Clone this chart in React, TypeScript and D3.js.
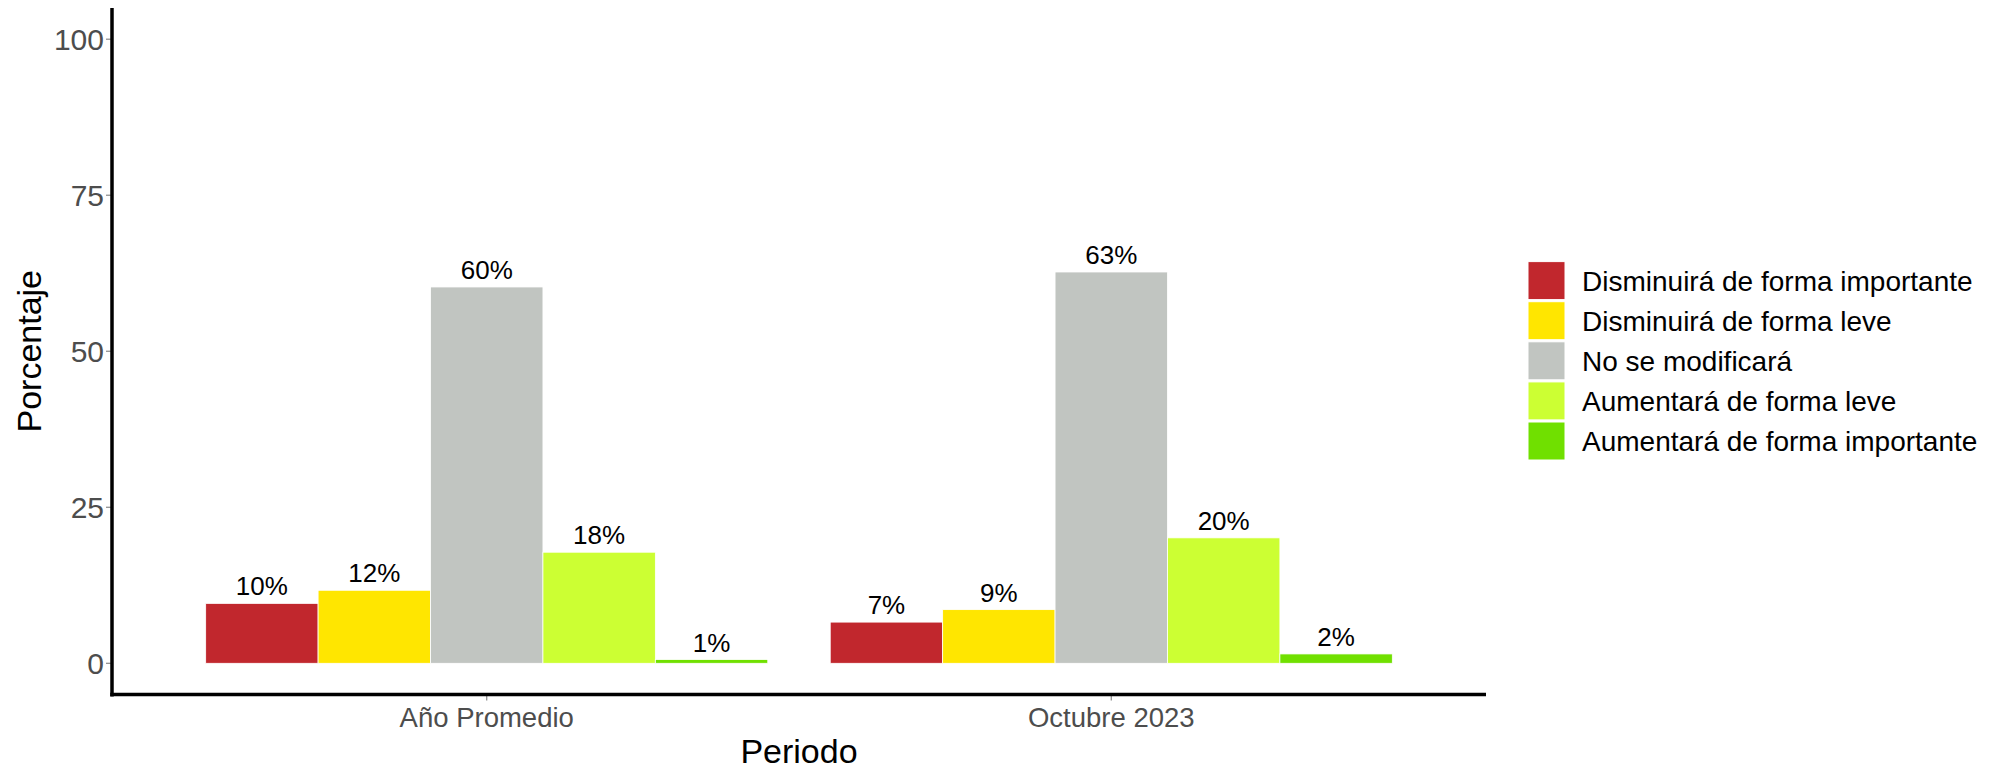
import { useEffect } from 'react';
import * as d3 from 'd3';

const PERIODS = ['Año Promedio', 'Octubre 2023'];
const CATEGORIES = [
  'Disminuirá de forma importante',
  'Disminuirá de forma leve',
  'No se modificará',
  'Aumentará de forma leve',
  'Aumentará de forma importante',
];
const COLORS = ['#C1272D', '#FFE600', '#C1C5C1', '#CCFF33', '#70E000'];
const PROMEDIO = [9.6, 11.7, 60.3, 17.8, 0.6];
const OCTUBRE = [6.6, 8.6, 62.7, 20.1, 1.5];
const SERIES = [PROMEDIO, OCTUBRE];
const Y_TICKS = [0, 25, 50, 75, 100];

const FONT = '"Liberation Sans", Arial, sans-serif';

const App = () => {
  useEffect(() => {
    document.body.style.margin = '0';
  }, []);

  const width = 2000;
  const height = 771;
  const panel = { left: 112, right: 1486, top: 8, bottom: 694.5 };

  const x = d3
    .scalePoint<string>()
    .domain(PERIODS)
    .range([panel.left, panel.right])
    .padding(0.6);
  const groupWidth = x.step() * 0.9;
  const inner = d3
    .scaleBand<string>()
    .domain(CATEGORIES)
    .range([-groupWidth / 2, groupWidth / 2])
    .padding(0);
  const y = d3.scaleLinear().domain([-5, 105]).range([panel.bottom, panel.top]);

  const legendX = 1528;
  const legendY0 = 280.6;
  const legendStep = 40.1;

  return (
    <svg width={width} height={height} style={{ display: 'block', fontFamily: FONT }}>
      <rect width={width} height={height} fill="#fff" />

      {/* bars */}
      {PERIODS.map((p, pi) => (
        <g key={p} transform={`translate(${x(p)},0)`}>
          {CATEGORIES.map((c, ci) => {
            const v = SERIES[pi][ci];
            const bx = inner(c)!;
            return (
              <g key={c}>
                <rect
                  x={bx}
                  y={y(v)}
                  width={inner.bandwidth()}
                  height={y(0) - y(v)}
                  fill={COLORS[ci]}
                  stroke="#fff"
                  strokeWidth={0.8}
                />
                <text
                  x={bx + inner.bandwidth() / 2}
                  y={y(v) - 8}
                  textAnchor="middle"
                  fontSize={26}
                  fill="#000"
                >
                  {`${Math.round(v)}%`}
                </text>
              </g>
            );
          })}
        </g>
      ))}

      {/* y axis */}
      {Y_TICKS.map((t) => (
        <g key={t}>
          <line x1={panel.left - 6} x2={panel.left} y1={y(t)} y2={y(t)} stroke="#888" strokeWidth={1.2} />
          <text
            x={panel.left - 8}
            y={y(t)}
            dy="0.36em"
            textAnchor="end"
            fontSize={30}
            fill="#4D4D4D"
          >
            {t}
          </text>
        </g>
      ))}
      <line x1={panel.left} x2={panel.left} y1={panel.top} y2={panel.bottom + 2} stroke="#000" strokeWidth={3.5} />

      {/* x axis */}
      {PERIODS.map((p) => (
        <g key={p}>
          <line x1={x(p)} x2={x(p)} y1={panel.bottom} y2={panel.bottom + 6} stroke="#888" strokeWidth={1.2} />
          <text x={x(p)} y={727} textAnchor="middle" fontSize={27.5} fill="#4D4D4D">
            {p}
          </text>
        </g>
      ))}
      <line x1={panel.left - 1.75} x2={panel.right} y1={panel.bottom} y2={panel.bottom} stroke="#000" strokeWidth={3.5} />

      {/* axis titles */}
      <text x={(panel.left + panel.right) / 2} y={763} textAnchor="middle" fontSize={34} fill="#000">
        Periodo
      </text>
      <text
        transform={`translate(41,${(panel.top + panel.bottom) / 2}) rotate(-90)`}
        textAnchor="middle"
        fontSize={34}
        fill="#000"
      >
        Porcentaje
      </text>

      {/* legend */}
      {CATEGORIES.map((c, ci) => {
        const cy = legendY0 + ci * legendStep;
        return (
          <g key={c}>
            <rect
              x={legendX}
              y={cy - 19}
              width={37}
              height={38}
              fill={COLORS[ci]}
              stroke="#fff"
              strokeWidth={1}
            />
            <text x={1582} y={cy} dy="0.36em" fontSize={28} fill="#000">
              {c}
            </text>
          </g>
        );
      })}
    </svg>
  );
};

export default App;
